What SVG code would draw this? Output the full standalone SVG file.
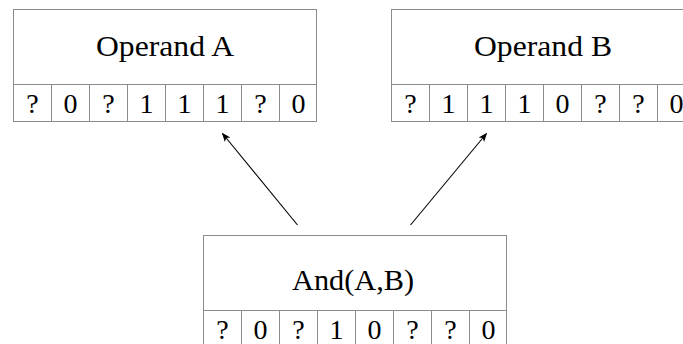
<svg xmlns="http://www.w3.org/2000/svg" width="683" height="344" viewBox="0 0 683 344">
  <style>
    .box { fill: #ffffff; stroke: #8c8c8c; stroke-width: 1; }
    .cell { fill: none; stroke: #8c8c8c; stroke-width: 1; }
    .title { font-family: "Liberation Serif", "DejaVu Serif", serif; font-size: 30px; fill: #000; text-anchor: middle; }
    .bit { font-family: "Liberation Serif", "DejaVu Serif", serif; font-size: 28px; fill: #000; text-anchor: middle; }
    .edge { stroke: #000; stroke-width: 1.1; fill: none; marker-end: url(#arrow); }
  </style>
  <defs>
    <marker id="arrow" viewBox="0 0 10 10" refX="9" refY="5" markerWidth="9" markerHeight="9" markerUnits="userSpaceOnUse" orient="auto">
      <path d="M0,1 L10,5 L0,9 L2.5,5 Z" fill="#000"/>
    </marker>
  </defs>

  <!-- Operand A -->
  <g id="operandA">
    <rect class="box" x="13.5" y="9.5" width="303" height="75"/>
    <rect class="box" x="13.5" y="84.5" width="303" height="37"/>
    <path class="cell" d="M51.5,84.5V121.5M89.5,84.5V121.5M127.5,84.5V121.5M165.5,84.5V121.5M203.5,84.5V121.5M241.5,84.5V121.5M279.5,84.5V121.5"/>
    <text class="title" x="165" y="56" textLength="138" lengthAdjust="spacingAndGlyphs">Operand A</text>
    <g class="bit">
      <text x="32.5" y="113">?</text>
      <text x="70.5" y="113">0</text>
      <text x="108.5" y="113">?</text>
      <text x="146.5" y="113">1</text>
      <text x="184.5" y="113">1</text>
      <text x="222.5" y="113">1</text>
      <text x="260.5" y="113">?</text>
      <text x="298.5" y="113">0</text>
    </g>
  </g>

  <!-- Operand B -->
  <g id="operandB">
    <rect class="box" x="391.5" y="9.5" width="303" height="75"/>
    <rect class="box" x="391.5" y="84.5" width="303" height="37"/>
    <path class="cell" d="M429.5,84.5V121.5M467.5,84.5V121.5M505.5,84.5V121.5M543.5,84.5V121.5M581.5,84.5V121.5M619.5,84.5V121.5M657.5,84.5V121.5"/>
    <text class="title" x="543" y="56" textLength="138" lengthAdjust="spacingAndGlyphs">Operand B</text>
    <g class="bit">
      <text x="410.5" y="113">?</text>
      <text x="448.5" y="113">1</text>
      <text x="486.5" y="113">1</text>
      <text x="524.5" y="113">1</text>
      <text x="562.5" y="113">0</text>
      <text x="600.5" y="113">?</text>
      <text x="638.5" y="113">?</text>
      <text x="676.5" y="113">0</text>
    </g>
  </g>

  <!-- And(A,B) -->
  <g id="andAB">
    <rect class="box" x="203.5" y="235.5" width="303" height="75"/>
    <rect class="box" x="203.5" y="310.5" width="303" height="37"/>
    <path class="cell" d="M241.5,310.5V347.5M279.5,310.5V347.5M317.5,310.5V347.5M355.5,310.5V347.5M393.5,310.5V347.5M431.5,310.5V347.5M469.5,310.5V347.5"/>
    <text class="title" x="353" y="290" textLength="122" lengthAdjust="spacingAndGlyphs">And(A,B)</text>
    <g class="bit">
      <text x="222.5" y="339">?</text>
      <text x="260.5" y="339">0</text>
      <text x="298.5" y="339">?</text>
      <text x="336.5" y="339">1</text>
      <text x="374.5" y="339">0</text>
      <text x="412.5" y="339">?</text>
      <text x="450.5" y="339">?</text>
      <text x="488.5" y="339">0</text>
    </g>
  </g>

  <!-- connectors -->
  <g id="connectors">
    <line class="edge" x1="297.5" y1="225" x2="222.5" y2="133.5"/>
    <line class="edge" x1="410.5" y1="225" x2="486.5" y2="133.5"/>
  </g>
</svg>
